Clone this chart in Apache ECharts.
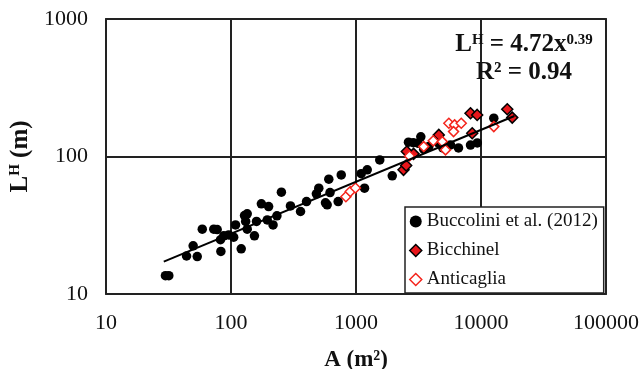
<!DOCTYPE html>
<html>
<head>
<meta charset="utf-8">
<script src="https://cdn.jsdelivr.net/npm/echarts@6/dist/echarts.min.js"></script>
<style>
  html, body { margin: 0; padding: 0; background: #fff; }
  #chart { width: 641px; height: 369px; }
</style>
</head>
<body>
<div id="chart"></div>
<script>
// log-log scatter: A (m²) vs L^H (m), three data sets + power-law trend

const xTicks = [10, 100, 1000, 10000, 100000];
const yTicks = [10, 100, 1000];

// Buccolini et al. (2012) — [A, L^H]
const buccolini = [
  [29.9, 13.6], [31.8, 13.6], [44.1, 18.9], [49.8, 22.4], [53.7, 18.7], [58.9, 29.6],
  [72.8, 29.6], [77.5, 29.4], [82.4, 24.8], [83, 20.4], [87.5, 26.5], [95.8, 26.9],
  [105, 25.9], [108.7, 31.8], [120.7, 21.3], [128.3, 37.2], [134.8, 38.3], [131, 33.7],
  [134.8, 29.6], [154, 26.5], [160, 33.7], [175, 45.3], [195, 34.6], [200, 43.2],
  [217, 31.8], [233, 37], [253, 55], [299, 43.7], [360, 39.8], [402, 47],
  [504, 58.8], [482, 53.5], [588, 44.5], [570, 46], [606, 68.4], [620, 54.7],
  [720, 47], [762, 73.5], [1100, 75], [1230, 80], [1170, 58.8], [1549, 94.5],
  [1950, 72.3], [2630, 127], [2870, 126], [3300, 139], [3130, 125], [3480, 113],
  [3823, 118], [4571, 125.6], [4950, 115.5], [5702, 121.4], [6607, 115.5], [8240, 121],
  [9340, 125.6], [12660, 189.9]
];

// Bicchinel
const bicchinel = [
  [2400, 80], [2520, 86], [2550, 108.6], [2887, 104.5], [4595, 143.6],
  [8241, 206.5], [9320, 200.6], [8507, 147.7], [16220, 220.6], [17780, 191.8]
];

// Anticaglia
const anticaglia = [
  [830, 51], [900, 55.6], [990, 59], [2680, 101], [3483, 118], [4150, 130],
  [4898, 128.3], [5200, 111.7], [5530, 174.6], [6150, 169.8], [6950, 174.6],
  [6030, 151.7], [12660, 165]
];

// trend line end points (L^H = 4.72x^0.39)
const trendEnds = [[29, 17.2], [18500, 197]];

const FONT = "Liberation Serif";
const chart = echarts.init(document.getElementById("chart"));

const axisCommon = {
  type: "log", logBase: 10,
  axisLine: { show: false }, axisTick: { show: false },
  minorTick: { show: false }, minorSplitLine: { show: false },
  splitLine: { show: true, lineStyle: { color: "#222", width: 2 } },
};

const eqRich = {
  m: { fontFamily: FONT, fontSize: 25, fontWeight: "bold", fill: "#111", lineHeight: 24, verticalAlign: "bottom" },
  s: { fontFamily: FONT, fontSize: 15, fontWeight: "bold", fill: "#111", lineHeight: 15, verticalAlign: "top" },
};

chart.setOption({
  backgroundColor: "#fff",
  animation: false,
  grid: { left: 106, right: 35, top: 19, bottom: 75, show: true, containLabel: false,
          outerBoundsMode: "none",
          borderColor: "#333", borderWidth: 2, backgroundColor: "transparent" },
  xAxis: {
    ...axisCommon, min: xTicks[0], max: xTicks[xTicks.length - 1],
    axisLabel: { color: "#111", fontFamily: FONT, fontSize: 22, margin: 18,
                 formatter: v => String(Math.round(v)) },
    name: "A (m²)", nameLocation: "middle", nameGap: 55,
    nameTextStyle: { color: "#111", fontFamily: FONT, fontSize: 23, fontWeight: "bold" },
  },
  yAxis: {
    ...axisCommon, min: yTicks[0], max: yTicks[yTicks.length - 1],
    axisLabel: { color: "#111", fontFamily: FONT, fontSize: 22, margin: 18,
                 formatter: v => String(Math.round(v)) },
    name: "{b|L}{s|H}{b| (m)}", nameLocation: "middle", nameGap: 70, nameRotate: 90,
    nameTextStyle: {
      color: "#111", fontFamily: FONT, fontSize: 25, fontWeight: "bold",
      rich: {
        b: { fontFamily: FONT, fontSize: 25, fontWeight: "bold", color: "#111", lineHeight: 25, verticalAlign: "bottom" },
        s: { fontFamily: FONT, fontSize: 15, fontWeight: "bold", color: "#111", lineHeight: 15, verticalAlign: "top" },
      },
    },
  },
  legend: {
    orient: "vertical", left: 405, top: 207,
    backgroundColor: "#fff", borderColor: "#222", borderWidth: 1.5,
    padding: [5, 6, 4, 4], itemGap: 10, itemWidth: 12, itemHeight: 12,
    textStyle: { fontFamily: FONT, fontSize: 19, color: "#111" },
    data: [
      { name: "Buccolini et al. (2012)", icon: "circle", itemStyle: { color: "#000", borderWidth: 0 } },
      { name: "Bicchinel", icon: "diamond", itemStyle: { color: "#e8161b", borderColor: "#000", borderWidth: 1.5 } },
      { name: "Anticaglia", icon: "diamond", itemStyle: { color: "#fff", borderColor: "#f4241c", borderWidth: 1.5 } },
    ],
  },
  graphic: [
    { type: "text", x: 524, y: 33, z: 100,
      style: { text: "{m|L}{s|H}{m| = 4.72x}{s|0.39}", align: "center", verticalAlign: "top", rich: eqRich } },
    { type: "text", x: 524, y: 61, z: 100,
      style: { text: "{m|R² = 0.94}", align: "center", verticalAlign: "top", rich: eqRich } },
  ],
  series: [
    { name: "Buccolini et al. (2012)", type: "scatter", data: buccolini, symbol: "circle",
      symbolSize: 9.5, itemStyle: { color: "#000", opacity: 1 }, z: 3 },
    { name: "Bicchinel", type: "scatter", data: bicchinel, symbol: "diamond", symbolSize: 11,
      itemStyle: { color: "#e8161b", borderColor: "#000", borderWidth: 1.5, opacity: 1 }, z: 4 },
    { name: "Anticaglia", type: "scatter", data: anticaglia, symbol: "diamond", symbolSize: 10,
      itemStyle: { color: "#fff", borderColor: "#f4241c", borderWidth: 1.5, opacity: 1 }, z: 4 },
    { name: "trend", type: "line", data: trendEnds, symbol: "none", silent: true,
      lineStyle: { color: "#000", width: 2 }, z: 5 },
  ],
});
</script>
</body>
</html>
